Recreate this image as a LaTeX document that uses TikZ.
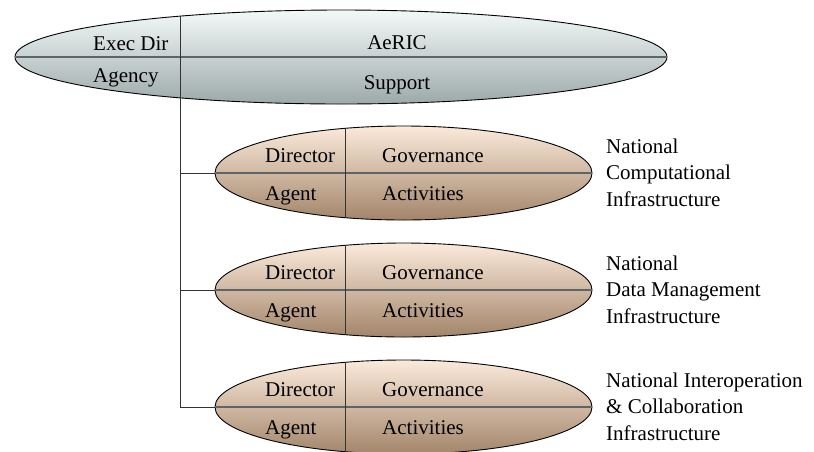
\documentclass[tikz,border=0pt]{standalone}
\usepackage{fontspec}
\setmainfont{Liberation Serif}
\usetikzlibrary{shapes.geometric, positioning}

\definecolor{topT}{HTML}{F3F9F9}
\definecolor{topB}{HTML}{9DA9A9}
\definecolor{subT}{HTML}{FBEADB}
\definecolor{subB}{HTML}{A3856A}
\definecolor{midgray}{HTML}{5F6565}

\tikzset{
  lbl/.style={inner sep=0pt, font=\fontsize{21}{26.5}\selectfont},
  topell/.style={ellipse, draw, line width=0.9pt, minimum width=652pt, minimum height=94pt, inner sep=0pt, top color=topT, bottom color=topB},
  subell/.style={ellipse, draw, line width=0.9pt, minimum width=377pt, minimum height=94pt, inner sep=0pt, top color=subT, bottom color=subB},
  midline/.style={draw=midgray, line width=1.8pt},
  divline/.style={draw=black!80, line width=0.9pt},
}

\begin{document}
\begin{tikzpicture}[x=1pt, y=-1pt]
\useasboundingbox (0,0) rectangle (814,451);

% top ellipse
\node[topell] (aeric) at (341,57) {};
\draw[midline] (aeric.west) -- (aeric.east);
\coordinate (trunktop) at (180,16);

\node[lbl, anchor=base west] (execdir) at (93,50) {Exec Dir};
\node[lbl, anchor=base west] (agency) at (93,82) {Agency};
\node[lbl, anchor=base] (aericname) at (397,49) {AeRIC};
\node[lbl, anchor=base] (support) at (397,89) {Support};

% the three infrastructures
\foreach \nm/\yy/\lab in {nc/173/{National\\Computational\\Infrastructure},
                          ndm/290/{National\\Data Management\\Infrastructure},
                          nic/407/{National Interoperation\\\& Collaboration\\Infrastructure}} {
  \node[subell] (\nm) at (403.5,\yy) {};
  \draw[midline] (\nm.west) -- (\nm.east);
  \draw[divline] ([xshift=-58.5pt, yshift=44.6pt]\nm.center) -- ([xshift=-58.5pt, yshift=-44.6pt]\nm.center);
  \node[lbl, anchor=base west] (\nm-dir) at (265,\yy-11) {Director};
  \node[lbl, anchor=base west] (\nm-gov) at (382,\yy-11) {Governance};
  \node[lbl, anchor=base west] (\nm-agent) at (265,\yy+27) {Agent};
  \node[lbl, anchor=base west] (\nm-act) at (382,\yy+27) {Activities};
  \node[lbl, anchor=base west, align=left] (\nm-name) at (606,\yy+33) {\lab};
}

\draw[divline] (trunktop) |- (nic.west);
\draw[divline] (trunktop |- nc.west) -- (nc.west);
\draw[divline] (trunktop |- ndm.west) -- (ndm.west);
\end{tikzpicture}
\end{document}
